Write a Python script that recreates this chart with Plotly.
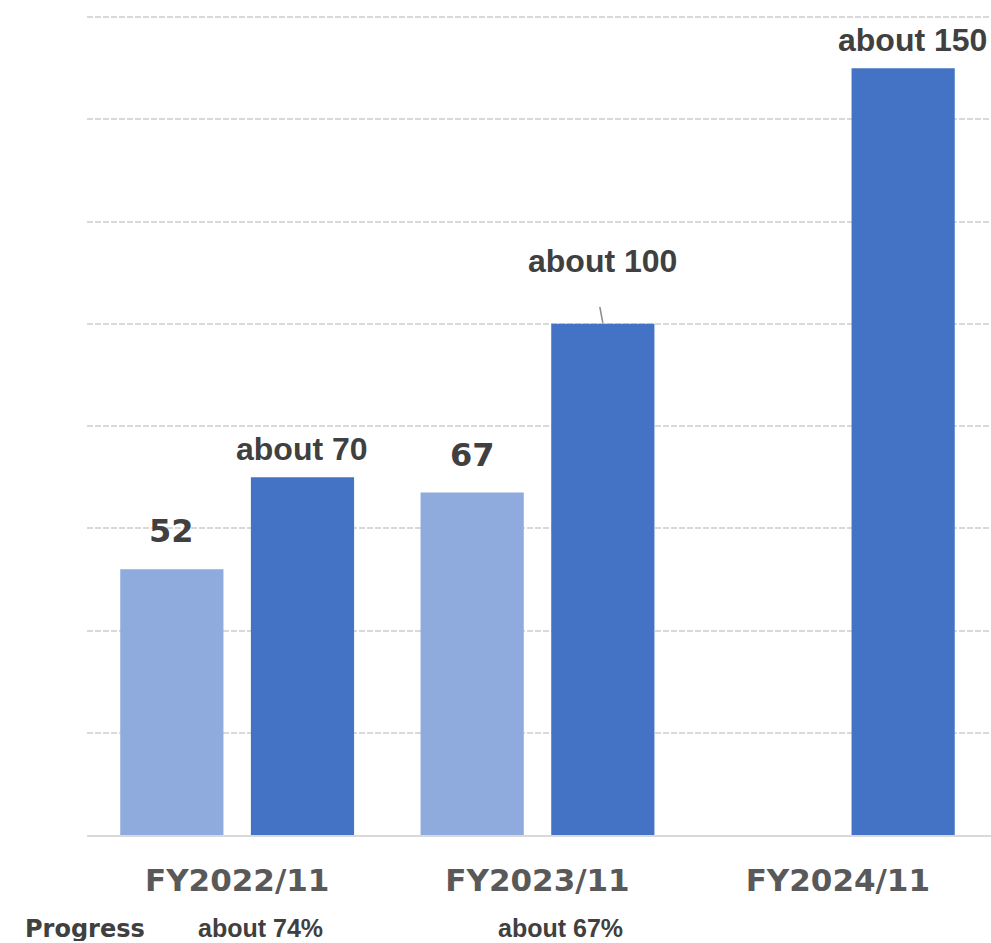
import plotly.graph_objects as go

# Fiscal years on the category axis
categories = ["FY2022/11", "FY2023/11", "FY2024/11"]

# Achieved figures (no result yet for the last year)
actual = [52, 67, None]
actual_labels = ["52", "67", ""]

# Targets for each year
target = [70, 100, 150]
target_labels = ["about 70", "about 100", "about 150"]

# Progress of actual vs target
progress_labels = ["about 74%", "about 67%", ""]

LIGHT = "#8FAADC"
DARK = "#4472C4"
TEXT = "#404040"
TICK = "#595959"
GRID = "#D9D9D9"

BARGAP = 0.13
BARGROUPGAP = 0.21
# centre of each of the two bars inside a group, in category units
HALF_SLOT = (1 - BARGAP) / 4

fig = go.Figure()
fig.add_trace(go.Bar(x=categories, y=actual, marker_color=LIGHT,
                     marker_line_width=0, name="Actual", hoverinfo="skip"))
fig.add_trace(go.Bar(x=categories, y=target, marker_color=DARK,
                     marker_line_width=0, name="Target", hoverinfo="skip"))

annotations = []
# value labels above the achieved bars
for i, (v, t) in enumerate(zip(actual, actual_labels)):
    if v is None:
        continue
    annotations.append(dict(
        x=i - HALF_SLOT, y=v, xref="x", yref="y", text=t, showarrow=False,
        xanchor="center", yanchor="bottom", yshift=17,
        font=dict(family="DejaVu Sans", size=32, color=TEXT, weight="bold")))

# value labels above the target bars; the middle one is lifted with a leader line
lift = {1: 43}
for i, (v, t) in enumerate(zip(target, target_labels)):
    annotations.append(dict(
        x=i + HALF_SLOT, y=v, xref="x", yref="y", text=t, showarrow=False,
        xanchor="center", yanchor="bottom", yshift=lift.get(i, 8),
        xshift=9 if i == 2 else 0,
        font=dict(family="Liberation Sans", size=32, color=TEXT, weight="bold")))

# progress row under the axis
annotations.append(dict(
    x=0, y=0, xref="paper", yref="paper", text="Progress", showarrow=False,
    xanchor="center", yanchor="middle", xshift=-2, yshift=-94, height=24,
    font=dict(family="DejaVu Sans", size=24, color=TEXT, weight="bold")))
for i, t in enumerate(progress_labels):
    if not t:
        continue
    annotations.append(dict(
        x=i, y=0, xref="x", yref="paper", text=t, showarrow=False,
        xanchor="center", yanchor="middle", xshift=23, yshift=-93,
        font=dict(family="Liberation Sans", size=25, color=TEXT, weight="bold")))

# leader line from the lifted label down to its bar
shapes = [dict(
    type="line", xref="x", yref="y", xsizemode="pixel", ysizemode="pixel",
    xanchor=1 + HALF_SLOT, yanchor=target[1],
    x0=0, x1=-3, y0=1, y1=17,
    line=dict(color="#8C8C8C", width=1.5))]

fig.update_layout(
    width=991, height=943,
    margin=dict(l=87, r=0, t=12, b=108),
    paper_bgcolor="white", plot_bgcolor="white",
    barmode="group", bargap=BARGAP, bargroupgap=BARGROUPGAP,
    showlegend=False,
    annotations=annotations,
    shapes=shapes,
)
fig.update_xaxes(
    type="category", range=[-0.5, 2.51],
    showline=True, linecolor=GRID, linewidth=2,
    showgrid=False, ticks="", ticklabelstandoff=17,
    tickfont=dict(family="DejaVu Sans", size=31, color=TICK, weight="bold"),
)
fig.update_yaxes(
    range=[0, 161], dtick=20, tick0=0,
    showgrid=True, gridcolor=GRID, gridwidth=1.5, griddash="6px,2px",
    zeroline=False, showticklabels=False, showline=False,
)

fig.write_html("out.html")
